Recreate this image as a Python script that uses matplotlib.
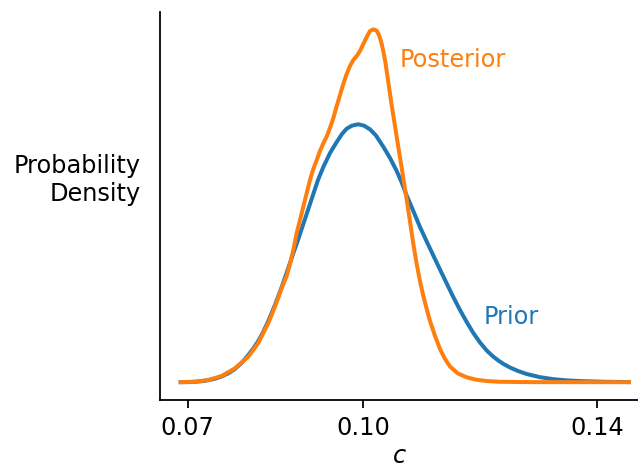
import matplotlib
matplotlib.use("Agg")
import matplotlib.pyplot as plt

# Prior density curve
prior_x = [0.06880, 0.07005, 0.07125, 0.07236, 0.07347, 0.07467, 0.07581, 0.07694, 0.07808, 0.07923,
           0.08036, 0.08121, 0.08207, 0.08292, 0.08378, 0.08492, 0.08607, 0.08714, 0.08805, 0.08885,
           0.08976, 0.09056, 0.09147, 0.09227, 0.09318, 0.09432, 0.09547, 0.09637, 0.09717, 0.09808,
           0.09916, 0.10013, 0.10116, 0.10218, 0.10343, 0.10458, 0.10572, 0.10658, 0.10743, 0.10856,
           0.10970, 0.11085, 0.11198, 0.11312, 0.11427, 0.11539, 0.11654, 0.11768, 0.11881, 0.11996,
           0.12110, 0.12209, 0.12308, 0.12406, 0.12508, 0.12645, 0.12794, 0.13021, 0.13248, 0.13478,
           0.13705, 0.14132, 0.14542]
prior_y = [0.02, 0.03, 0.08, 0.17, 0.31, 0.56, 0.91, 1.41, 2.08, 3.05,
           4.27, 5.29, 6.46, 7.90, 9.59, 12.10, 14.91, 17.73, 20.20, 22.27,
           24.77, 26.97, 29.47, 31.66, 33.69, 35.88, 37.61, 38.86, 39.69, 40.17,
           40.38, 40.17, 39.59, 38.62, 36.87, 35.10, 33.07, 31.27, 29.23, 26.81,
           24.30, 22.03, 19.84, 17.65, 15.46, 13.35, 11.31, 9.44, 7.72, 6.23,
           4.98, 4.12, 3.41, 2.82, 2.32, 1.77, 1.30, 0.80, 0.49, 0.30,
           0.19, 0.08, 0.03]

# Posterior density curve
post_x = [0.06880, 0.07125, 0.07352, 0.07581, 0.07808, 0.08036, 0.08207, 0.08378, 0.08492, 0.08607,
          0.08692, 0.08748, 0.08805, 0.08863, 0.08919, 0.08976, 0.09034, 0.09090, 0.09147, 0.09205,
          0.09261, 0.09318, 0.09376, 0.09432, 0.09489, 0.09547, 0.09603, 0.09659, 0.09717, 0.09774,
          0.09830, 0.09888, 0.09945, 0.10001, 0.10059, 0.10116, 0.10172, 0.10227, 0.10270, 0.10312,
          0.10346, 0.10381, 0.10428, 0.10483, 0.10543, 0.10599, 0.10658, 0.10714, 0.10770, 0.10816,
          0.10856, 0.10914, 0.10970, 0.11027, 0.11085, 0.11141, 0.11227, 0.11312, 0.11398, 0.11483,
          0.11620, 0.11768, 0.11927, 0.12110, 0.12338, 0.12850, 0.13705, 0.14542]
post_y = [0.02, 0.09, 0.36, 0.99, 2.19, 4.01, 6.15, 9.28, 11.83, 14.76,
          16.64, 18.51, 20.70, 23.36, 25.40, 27.48, 29.62, 31.66, 33.38, 34.79,
          36.20, 37.40, 38.47, 39.80, 41.36, 43.24, 44.96, 46.68, 48.25, 49.50,
          50.44, 51.06, 51.85, 52.94, 54.04, 54.98, 55.24, 55.05, 54.35, 53.10,
          51.69, 49.97, 47.00, 43.55, 40.11, 36.82, 33.54, 30.25, 26.96, 24.15,
          21.64, 18.51, 15.85, 13.51, 11.47, 9.59, 7.25, 5.21, 3.65, 2.47,
          1.38, 0.78, 0.41, 0.20, 0.08, 0.03, 0.02, 0.02]

tick_values = [0.07, 0.10, 0.14]
tick_labels = ["0.07", "0.10", "0.14"]

plt.rcParams["font.size"] = 10.8

figure = plt.figure(figsize=(638 / 160, 468 / 160), dpi=160)
axis = figure.add_axes([0.2508, 0.1453, 0.7492, 0.829])

axis.plot(prior_x, prior_y, color="#1f77b4", linewidth=1.8)
axis.plot(post_x, post_y, color="#ff7f0e", linewidth=1.8)

# Direct labels instead of a legend
axis.text(0.10629, 50.44, "Posterior", color="#ff7f0e", ha="left", va="center")
axis.text(0.12052, 10.22, "Prior", color="#1f77b4", ha="left", va="center")

axis.set_xlim(0.06527, 0.14696)
axis.set_ylim(-2.77, 57.95)
axis.set_xticks(tick_values)
axis.set_xticklabels(tick_labels)
axis.set_yticks([])

axis.set_xlabel("$c$", labelpad=2)
axis.set_ylabel("Probability\nDensity", rotation=0, ha="right", va="center")
axis.yaxis.set_label_coords(-0.040, 0.567)

axis.spines["top"].set_visible(False)
axis.spines["right"].set_visible(False)

figure.savefig("out.png", dpi=160)
